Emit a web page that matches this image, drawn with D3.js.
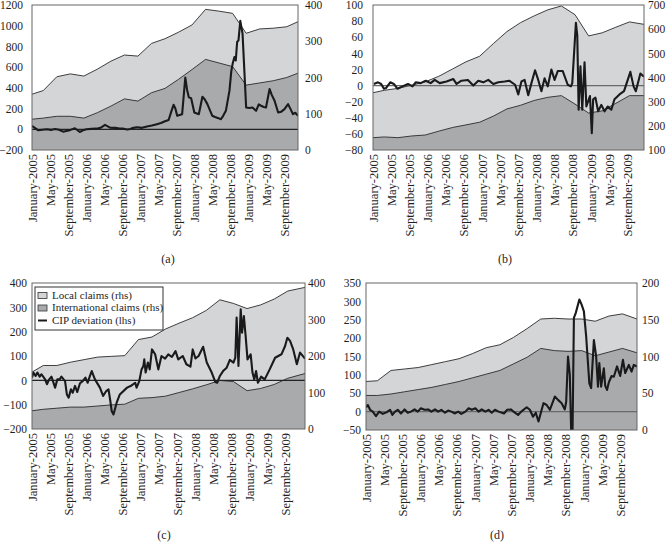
<!DOCTYPE html>
<html><head><meta charset="utf-8">
<script src="https://cdn.jsdelivr.net/npm/d3@7"></script>
<style>
body{margin:0;background:#fff}
text{font-family:"Liberation Serif","Times New Roman",serif;fill:#1e1e1e}
</style>
</head><body>
<svg id="chart" width="670" height="542"></svg>
<script>
// ---------- DATA ----------
// months since January 2005
const tickMonths = [0,4,8,12,16,20,24,28,32,36,40,44,48,52,56];
const tickLabels = ["January-2005","May-2005","September-2005","January-2006","May-2006","September-2006","January-2007","May-2007","September-2007","January-2008","May-2008","September-2008","January-2009","May-2009","September-2009"];
// quarterly claims observations (month positions)
const claimMonths = [0,2.5,5.5,8.5,11.5,14.5,17.5,20.5,23.5,26.5,29.5,32.5,35.5,38.5,41.5,44.5,47.5,50.5,53.5,56.5];

// (a)
const localA = [154,164,202,210,204,223,245,262,259,294,307,325,345,388,383,377,322,334,336,340,354];
const intlA  = [85,88,93,93,88,103,121,141,135,158,170,195,222,250,240,230,179,185,191,200,212];
const cipA = [[0,32],[0.7,12],[1.4,-10],[2.3,-4],[3.3,0],[4.2,-6],[5.1,3],[6.0,-4],[6.9,-23],[7.6,-16],[8.4,-8],[9.5,10],[10.6,-26],[11.3,-10],[12.1,0],[13.2,4],[14.3,6],[15.2,14],[16.2,42],[17.3,16],[18.5,14],[19.4,8],[20.3,6],[21.1,-2],[21.8,2],[22.5,14],[23.3,19],[24.4,14],[25.5,26],[26.6,36],[27.7,49],[28.6,60],[29.5,78],[30.3,90],[31.0,185],[31.4,237],[31.8,200],[32.2,130],[33.3,146],[34.0,500],[34.4,380],[34.8,308],[35.3,300],[36.0,162],[37.0,146],[37.8,314],[38.3,290],[38.9,243],[39.5,180],[40.0,130],[40.6,118],[41.2,110],[41.9,97],[42.4,130],[43.0,178],[43.8,373],[44.2,560],[44.5,632],[44.9,697],[45.2,664],[45.5,843],[45.8,859],[46.2,1047],[46.7,924],[47.5,211],[48.2,205],[48.9,211],[49.7,178],[50.3,240],[50.8,227],[51.4,215],[51.9,211],[52.7,389],[53.2,330],[53.8,275],[54.6,162],[55.3,170],[56.0,194],[56.8,243],[57.4,190],[57.9,146],[58.4,160],[59,130]];

// (b)
const localB = [337,347,355,368,382,405,435,465,488,540,590,627,655,680,696,660,572,585,608,630,620];
const intlB  = [151,154,151,158,162,178,193,204,215,240,270,285,305,318,325,290,253,262,293,325,325];
const cipB = [[0.2,2],[1.1,4],[1.8,2],[2.4,-4],[2.9,-3],[3.8,4],[4.6,2],[5.4,-4],[6.5,-1],[7.7,2],[8.7,-1],[9.4,4],[10.5,3],[11.6,6],[12.7,3],[13.6,7],[14.7,3],[16.2,5],[17.7,8],[18.4,2],[19.5,6],[20.9,7],[22.1,0],[23.2,6],[24.3,4],[25.4,7],[26.5,2],[27.6,4],[29.0,5],[30.0,6],[31.3,1],[32.0,-11],[32.7,5],[33.4,7],[34.2,-12],[34.9,3],[35.7,19],[36.4,7],[37.1,-7],[37.8,9],[38.5,-1],[39.3,20],[40.0,7],[40.7,18],[41.8,18],[42.9,1],[43.6,-1],[43.9,3],[44.7,78],[45.0,62],[45.3,-30],[45.7,24],[46.1,-30],[46.6,29],[47.0,-26],[47.8,-13],[48.2,-59],[48.5,-17],[49.0,-15],[49.6,-32],[50.3,-24],[51.0,-32],[51.7,-26],[52.5,-30],[53.2,-17],[54.3,-11],[55.3,-7],[56.7,17],[57.4,-1],[57.9,-7],[58.9,15],[59.7,11]];

// (c)
const localC = [156,174,174,183,190,197,199,201,245,252,274,290,305,325,354,344,330,340,356,378,388];
const intlC  = [50,54,57,60,60,63,66,68,84,86,90,100,110,121,133,130,105,111,122,139,152];
const cipC = [[0,11],[0.3,32],[0.8,18],[1.2,32],[1.7,15],[2.1,25],[2.9,4],[3.3,-16],[3.8,4],[4.3,15],[5.1,-30],[5.6,4],[6.1,4],[6.5,15],[7.3,-3],[7.7,-58],[8.1,-71],[8.6,-37],[9.0,-51],[9.5,-23],[10.0,-48],[10.6,-12],[11.2,-3],[11.8,11],[12.3,-10],[12.8,18],[13.2,38],[13.9,4],[15.0,-30],[15.7,-64],[16.4,-44],[16.9,-37],[17.3,-85],[17.6,-126],[18.0,-140],[18.7,-92],[19.4,-58],[21.0,-30],[22.0,-21],[22.8,-10],[23.1,-30],[23.7,-3],[24.2,45],[24.6,59],[24.8,86],[25.1,32],[25.6,73],[26.0,45],[26.5,127],[27.2,107],[27.9,45],[28.6,100],[29.4,89],[30.1,107],[30.9,96],[31.7,120],[32.3,86],[33.3,100],[34.1,66],[35.0,56],[35.5,127],[36.1,90],[36.8,100],[37.8,138],[38.6,73],[39.7,32],[40.5,-7],[40.9,-10],[41.5,18],[42.2,38],[43.0,52],[43.7,84],[44.5,73],[44.9,93],[45.2,258],[45.6,59],[46.1,292],[46.4,196],[46.8,264],[47.2,180],[47.6,86],[48.3,107],[48.7,32],[49.1,4],[49.5,38],[49.9,-10],[50.6,15],[51.4,4],[52.5,45],[53.7,93],[54.4,100],[55.1,107],[55.9,141],[56.4,175],[57.0,162],[57.7,127],[58.5,66],[59.2,114],[60.3,89]];

// (d)
const localD = [66,67,81,83,85,89,93,97,104,112,116,126,138,151,152,151,151,148,155,158,151];
const intlD  = [47,47,49,52,55,58,62,66,71,76,81,90,99,111,108,107,108,101,106,111,105];
const cipD = [[0,12],[0.4,18],[0.9,5],[1.5,0],[2.2,-12],[2.9,0],[3.7,-6],[4.5,-2],[5.3,5],[5.8,-9],[6.4,0],[7.0,5],[7.7,-5],[8.5,6],[9.2,-3],[9.9,0],[10.7,6],[11.4,0],[12.1,9],[12.9,5],[13.7,6],[14.4,0],[15.2,6],[15.9,0],[16.6,5],[17.4,-3],[18.1,3],[18.8,0],[19.6,-5],[20.3,0],[21.0,-6],[21.9,0],[22.6,9],[23.3,5],[24.1,9],[24.8,0],[25.5,6],[26.3,0],[27.0,5],[27.7,-3],[28.4,5],[29.2,0],[30.4,-5],[31.1,5],[31.9,6],[32.8,-3],[33.5,-9],[34.2,0],[35.4,12],[36.1,5],[36.8,-14],[37.4,-3],[38.0,-27],[38.7,5],[39.1,23],[39.8,18],[40.5,5],[41.6,41],[42.3,32],[43.1,23],[43.8,6],[44.1,27],[44.5,150],[44.9,100],[45.2,-55],[45.5,-55],[45.8,255],[46.2,268],[47.0,305],[47.5,291],[48.0,273],[48.5,205],[49.2,77],[49.6,64],[50.2,195],[50.7,150],[51.1,68],[51.4,132],[51.8,68],[52.4,118],[52.7,70],[53.1,59],[53.5,80],[54.1,97],[54.6,95],[55.3,123],[56.0,97],[56.6,141],[57.1,105],[57.9,127],[58.5,109],[59.0,127],[59.7,123]];

const lhsTicksA = [-200,0,200,400,600,800,1000,1200], rhsTicksA = [0,100,200,300,400];
const lhsTicksB = [-80,-60,-40,-20,0,20,40,60,80,100], rhsTicksB = [100,200,300,400,500,600,700];
const lhsTicksC = [-200,-100,0,100,200,300,400], rhsTicksC = [0,100,200,300,400];
const lhsTicksD = [-50,0,50,100,150,200,250,300,350], rhsTicksD = [0,50,100,150,200];
const captions = ["(a)","(b)","(c)","(d)"];
const legendLabels = ["Local claims (rhs)","International claims (rhs)","CIP deviation (lhs)"];

// ---------- STYLE / LAYOUT ----------
const LIGHT = "#d4d5d7", DARK = "#a9aaac";
const svg = d3.select("#chart");
const fmt = d3.format("d");

function panel(p) {
  const g = svg.append("g");
  const x = d3.scaleLinear().domain([0, p.end]).range([p.l, p.r]);
  const yL = d3.scaleLinear().domain(d3.extent(p.lhsTicks)).range([p.b, p.t]);
  const yR = d3.scaleLinear().domain(d3.extent(p.rhsTicks)).range([p.b, p.t]);
  const months = claimMonths.concat([p.end]);
  const loc = months.map((m,i)=>[m, p.local[i]]);
  const intl = months.map((m,i)=>[m, p.intl[i]]);
  const clipId = "clip" + p.id;
  svg.append("clipPath").attr("id", clipId).append("rect")
    .attr("x", p.l).attr("y", p.t).attr("width", p.r - p.l).attr("height", p.b - p.t);
  const pg = g.append("g").attr("clip-path", `url(#${clipId})`);
  const area = d3.area().x(d=>x(d[0])).y0(p.b).y1(d=>yR(d[1]));
  const rline = d3.line().x(d=>x(d[0])).y(d=>yR(d[1]));
  pg.append("path").datum(loc).attr("d", area).attr("fill", LIGHT);
  pg.append("path").datum(loc).attr("d", rline).attr("fill","none").attr("stroke","#2a2a2a").attr("stroke-width",0.9);
  pg.append("path").datum(intl).attr("d", area).attr("fill", DARK);
  pg.append("path").datum(intl).attr("d", rline).attr("fill","none").attr("stroke","#2a2a2a").attr("stroke-width",0.9);
  pg.append("line").attr("x1", p.l).attr("x2", p.r).attr("y1", yL(0)).attr("y2", yL(0))
    .attr("stroke", p.zeroColor).attr("stroke-width", 1.2);
  const cline = d3.line().x(d=>x(d[0])).y(d=>yL(d[1]));
  pg.append("path").datum(p.cip).attr("d", cline).attr("fill","none")
    .attr("stroke","#1a1a1a").attr("stroke-width",2.1).attr("stroke-linejoin","round");
  g.append("rect").attr("x", p.l).attr("y", p.t).attr("width", p.r - p.l).attr("height", p.b - p.t)
    .attr("fill","none").attr("stroke","#666").attr("stroke-width",1);

  const la = g.append("g").attr("transform",`translate(${p.l},0)`)
    .call(d3.axisLeft(yL).tickValues(p.lhsTicks).tickSize(0).tickPadding(p.lpad).tickFormat(fmt));
  const ra = g.append("g").attr("transform",`translate(${p.r},0)`)
    .call(d3.axisRight(yR).tickValues(p.rhsTicks).tickSize(0).tickPadding(p.rpad).tickFormat(fmt));
  [la, ra].forEach(a => { a.select(".domain").remove(); a.selectAll("text").style("font-size","11.5px").attr("font-family",null); });
  const xa = g.append("g").attr("transform",`translate(0,${p.b})`)
    .call(d3.axisBottom(x).tickValues(tickMonths).tickSize(0).tickFormat((d,i)=>tickLabels[i]));
  xa.select(".domain").remove();
  xa.selectAll("text").attr("font-family",null).style("font-size","12.5px")
    .attr("transform","rotate(-90)").attr("text-anchor","end")
    .attr("x",-4).attr("y",0).attr("dy","0.33em");
  g.append("text").attr("x", p.capX).attr("y", p.capY).attr("text-anchor","middle")
    .style("font-size","12px").text(p.caption);
  return {x, yL, yR};
}

panel({id:"a", l:32, r:298, t:5, b:150, end:59, local:localA, intl:intlA, cip:cipA,
  lhsTicks:lhsTicksA, rhsTicks:rhsTicksA, lpad:9, rpad:7, zeroColor:"#222", caption:captions[0], capX:168, capY:263});
panel({id:"b", l:373, r:644, t:5, b:150, end:59.7, local:localB, intl:intlB, cip:cipB,
  lhsTicks:lhsTicksB, rhsTicks:rhsTicksB, lpad:10, rpad:4, zeroColor:"#6a6a6a", caption:captions[1], capX:505, capY:263});
panel({id:"c", l:32, r:305, t:283, b:429, end:60.3, local:localC, intl:intlC, cip:cipC,
  lhsTicks:lhsTicksC, rhsTicks:rhsTicksC, lpad:5, rpad:3, zeroColor:"#222", caption:captions[2], capX:164, capY:539});
panel({id:"d", l:366, r:637, t:283, b:430, end:59.7, local:localD, intl:intlD, cip:cipD,
  lhsTicks:lhsTicksD, rhsTicks:rhsTicksD, lpad:5, rpad:5, zeroColor:"#6a6a6a", caption:captions[3], capX:497, capY:539});

// legend in panel (c)
const lg = svg.append("g").attr("transform","translate(35,287)");
lg.append("rect").attr("width",128).attr("height",43).attr("fill","#fff").attr("stroke","#333").attr("stroke-width",1);
[LIGHT, DARK].forEach((c,i)=>{
  lg.append("rect").attr("x",3).attr("y",5.5+i*12.5).attr("width",9).attr("height",6)
    .attr("fill",c).attr("stroke","#333").attr("stroke-width",0.8);
});
lg.append("line").attr("x1",3).attr("x2",12).attr("y1",33.5).attr("y2",33.5).attr("stroke","#1a1a1a").attr("stroke-width",2);
legendLabels.forEach((t,i)=>{
  lg.append("text").attr("x",17).attr("y",11.5+i*12.5).style("font-size","11px").text(t);
});
</script>
</body></html>
